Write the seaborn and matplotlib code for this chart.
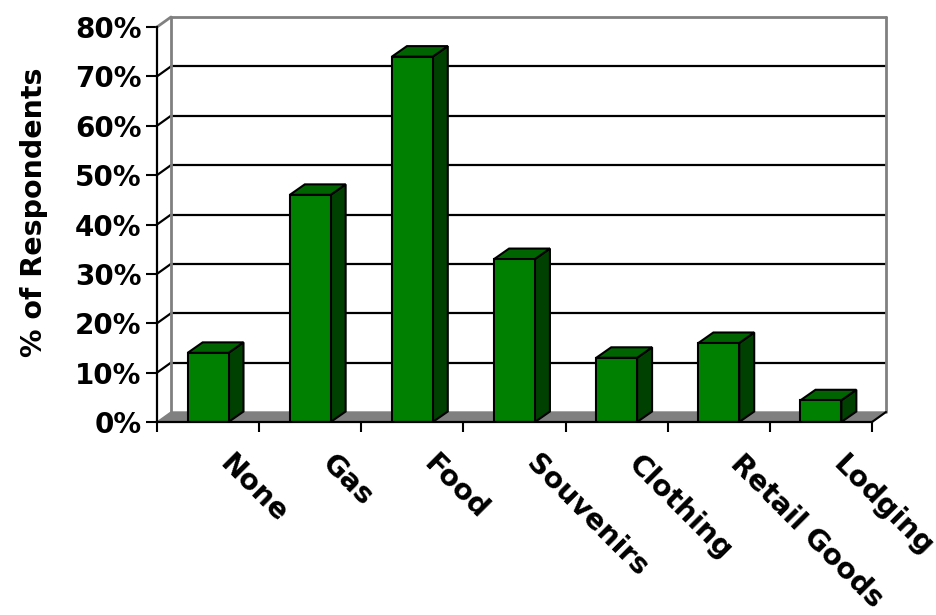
import matplotlib
matplotlib.use("Agg")
import numpy as np
import matplotlib.pyplot as plt
import seaborn as sns
from matplotlib.patches import Polygon
from matplotlib.transforms import ScaledTranslation

# data
categories = ["None", "Gas", "Food", "Souvenirs", "Clothing", "Retail Goods", "Lodging"]
values = [0.14, 0.46, 0.74, 0.33, 0.13, 0.16, 0.044]
yticks = [0.0, 0.1, 0.2, 0.3, 0.4, 0.5, 0.6, 0.7, 0.8]
ytick_labels = ["0%", "10%", "20%", "30%", "40%", "50%", "60%", "70%", "80%"]

sns.set_theme(style="white")
plt.rcParams["font.family"] = ["DejaVu Sans"]

W, H = 937, 615
fig = plt.figure(figsize=(W / 100, H / 100), dpi=100)
ax_w, ax_h = 715, 395
ax = fig.add_axes([157 / W, (H - 422) / H, ax_w / W, ax_h / H])

n = len(categories)
# depth of the fake 3d box, in data units (14 px right, 10 px up)
dx = 14 / (ax_w / n)
dy = 10 / (ax_h / 0.8)
bdx = 15 / (ax_w / n)
bdy = 10.5 / (ax_h / 0.8)

# bars (front faces)
sns.barplot(x=categories, y=values, color="#008000", saturation=1, width=0.4,
            edgecolor="black", linewidth=1.5, ax=ax, zorder=3)
bars = list(ax.patches)

ax.set_xlim(-0.5, n - 0.5)
ax.set_ylim(0, 0.8)
x0, x1 = -0.5, n - 0.5

# back wall gridlines
for y in yticks[1:-1]:
    ax.plot([x0 + dx, x1 + dx], [y + dy, y + dy], color="black", lw=1.6, zorder=1, clip_on=False)
    ax.plot([x0, x0 + dx], [y, y + dy], color="black", lw=1.6, zorder=1, clip_on=False)
# wall outline in gray
gray = "#808080"
ax.plot([x0 + dx, x1 + dx], [0.8 + dy, 0.8 + dy], color=gray, lw=2, zorder=1, clip_on=False)
ax.plot([x0 + dx, x0 + dx], [dy, 0.8 + dy], color=gray, lw=2, zorder=1, clip_on=False)
ax.plot([x1 + dx, x1 + dx], [dy, 0.8 + dy], color=gray, lw=2, zorder=1, clip_on=False)
ax.plot([x0, x0 + dx], [0.8, 0.8 + dy], color=gray, lw=2, zorder=1, clip_on=False)

# floor
floor = Polygon([(x0, 0), (x1, 0), (x1 + dx, dy), (x0 + dx, dy)], closed=True,
                facecolor=gray, edgecolor=gray, lw=1, zorder=1.5, clip_on=False)
ax.add_patch(floor)
ax.plot([x1, x1 + dx], [0, dy], color="black", lw=1.5, zorder=1.6, clip_on=False)

# tops and sides of the bars
for b in bars:
    bx0 = b.get_x()
    bx1 = bx0 + b.get_width()
    h = b.get_height()
    side = Polygon([(bx1, 0), (bx1 + bdx, bdy), (bx1 + bdx, h + bdy), (bx1, h)], closed=True,
                   facecolor="#004000", edgecolor="black", lw=1.5, zorder=2.9, clip_on=False)
    top = Polygon([(bx0, h), (bx1, h), (bx1 + bdx, h + bdy), (bx0 + bdx, h + bdy)], closed=True,
                  facecolor="#006400", edgecolor="black", lw=1.5, zorder=2.9, clip_on=False)
    ax.add_patch(side)
    ax.add_patch(top)

# spines
for s in ["top", "right"]:
    ax.spines[s].set_visible(False)
for s in ["left", "bottom"]:
    ax.spines[s].set_color("black")
    ax.spines[s].set_linewidth(1.6)
    ax.spines[s].set_zorder(4)

# y axis
ax.set_yticks(yticks)
ax.set_yticklabels(ytick_labels, fontsize=20, fontweight="bold", color="black")
ax.tick_params(axis="y", direction="out", length=8, width=1.5, color="black", pad=3, left=True)
ax.set_ylabel("% of Respondents", fontsize=20.5, fontweight="bold", color="black")
ax.yaxis.set_label_coords(-0.153, 0.53)

# x axis
ax.set_xticks(np.arange(n))
ax.set_xticks(np.arange(n + 1) - 0.5, minor=True)
ax.set_xticklabels(categories, rotation=-45, ha="left", va="top", rotation_mode="anchor",
                   fontsize=20.5, fontweight="bold", color="black")
ax.tick_params(axis="x", which="major", length=0, pad=20, bottom=True)
ax.tick_params(axis="x", which="minor", direction="out", length=7, width=1.5, color="black", bottom=True)
ax.set_xlabel("")
shift = ScaledTranslation(0.26, 0, fig.dpi_scale_trans)
for lbl in ax.get_xticklabels():
    lbl.set_transform(lbl.get_transform() + shift)

fig.savefig("out.png", dpi=100)
